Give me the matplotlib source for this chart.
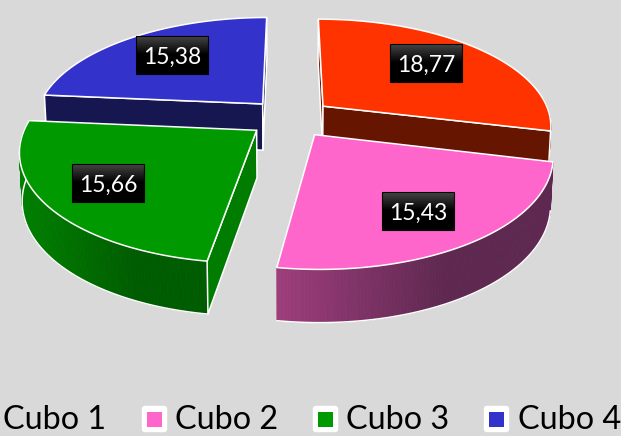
import numpy as np
import matplotlib
matplotlib.use("Agg")
import matplotlib.pyplot as plt
from matplotlib.colors import to_rgb
from matplotlib.patches import Polygon, FancyBboxPatch, Rectangle

categories = ["Cubo 1", "Cubo 2", "Cubo 3", "Cubo 4"]
values = [18.77, 15.43, 15.66, 15.38]

top_colors = ["#FF3300", "#FF66CC", "#009900", "#3333CC"]
wall_colors = ["#661500", "#66294F", "#007D00", "#161650"]
side_left = ["#661500", "#9E3E7C", "#008000", "#161650"]
side_right = ["#661500", "#5E2850", "#005C00", "#161650"]
label_centers = [(426, 63), (418, 211), (108, 183), (172, 55)]
legend_text_x = [3, 175, 346, 518]
legend_box_x = [None, 142, 313, 484]

W, H = 621, 436
CX, CY = 290.5, 118
A, B, K, EXPL, DEPTH = 228, 105.5, 0.17, 0.185, 47
BG = "#D9D9D9"

fig = plt.figure(figsize=(W / 100, H / 100), dpi=100, facecolor=BG)
ax = fig.add_axes([0, 0, 1, 1])
ax.set_xlim(0, W)
ax.set_ylim(H, 0)
ax.axis("off")


def project(X, Y, bottom=False):
    X, Y = np.asarray(X, float), np.asarray(Y, float)
    w = 1 + K * Y
    sx = CX + A * X / w
    sy = CY - B * Y / w
    if bottom:
        sx = CX + (sx - CX) * 0.99
        sy = sy + DEPTH * (1 - 0.115 * Y)
    return sx, sy


def slice_world(t0, t1, n=120):
    mid = (t0 + t1) / 2
    ox, oy = EXPL * np.sin(mid), EXPL * np.cos(mid)
    th = np.linspace(t0, t1, n)
    return ox, oy, th, ox + np.sin(th), oy + np.cos(th)


def area(p):
    p = np.asarray(p)
    return 0.5 * np.sum(p[:, 0] * np.roll(p[:, 1], -1) - np.roll(p[:, 0], -1) * p[:, 1])


angles = np.cumsum([0] + values) / sum(values) * 2 * np.pi
WHITE = dict(edgecolor="white", linewidth=1.1, joinstyle="round")
order = [3, 0, 2, 1]

for rank, i in enumerate(order):
    t0, t1 = angles[i], angles[i + 1]
    ox, oy, th, x, y = slice_world(t0, t1)
    base = rank * 10
    # outer side, only where it faces the viewer
    mask = (th > np.radians(85)) & (th < np.radians(275))
    if mask.sum() > 1:
        xs, ys = x[mask], y[mask]
        tx, ty = project(xs, ys)
        bx, by = project(xs, ys, True)
        lo, hi = np.array(to_rgb(side_left[i])), np.array(to_rgb(side_right[i]))
        span = np.clip((tx - tx.min()) / (0.62 * (tx.max() - tx.min())), 0, 1)
        for j in range(len(tx) - 1):
            c = lo + (hi - lo) * span[j]
            ax.add_patch(Polygon([(tx[j], ty[j]), (tx[j + 1], ty[j + 1]),
                                  (bx[j + 1], by[j + 1]), (bx[j], by[j])],
                                 closed=True, facecolor=c, edgecolor=c,
                                 linewidth=0.6, zorder=base + 1))
        ax.plot(bx, by, color="white", lw=1.1, zorder=base + 2)
    # radial walls: only those turned to the viewer
    for sign, (xe, ye) in ((-1, (x[0], y[0])), (1, (x[-1], y[-1]))):
        pts = np.array([[ox, oy], [xe, ye]])
        tx, ty = project(pts[:, 0], pts[:, 1])
        bx, by = project(pts[:, 0], pts[:, 1], True)
        quad = [(tx[0], ty[0]), (tx[1], ty[1]), (bx[1], by[1]), (bx[0], by[0])]
        if sign * area(quad) > -1000:
            ax.add_patch(Polygon(quad, closed=True, facecolor=wall_colors[i],
                                 zorder=base + 3, **WHITE))
    # top face
    tx, ty = project(np.r_[ox, x], np.r_[oy, y])
    ax.add_patch(Polygon(np.c_[tx, ty], closed=True, facecolor=top_colors[i],
                         zorder=base + 4, **WHITE))

# data labels
grad = np.r_[np.linspace(0.27, 0.0, 20), np.zeros(20)].reshape(-1, 1)
for v, (cx, cy) in zip(values, label_centers):
    ext = (cx - 36, cx + 36, cy + 19, cy - 19)
    ax.imshow(grad, cmap="gray", vmin=0, vmax=1, extent=ext, aspect="auto",
              interpolation="bilinear", zorder=100)
    ax.add_patch(Rectangle((cx - 36, cy - 19), 72, 38, fill=False, edgecolor="black",
                           linewidth=0.8, zorder=101))
    ax.text(cx, cy + 9, f"{v:.2f}".replace(".", ","), color="white", ha="center",
            va="baseline", fontsize=16.5, family="Lato", zorder=102)
ax.set_xlim(0, W)
ax.set_ylim(H, 0)

# legend
for i, name in enumerate(categories):
    ax.text(legend_text_x[i], 429, name, color="black", ha="left", va="baseline",
            fontsize=23.3, family="Lato", zorder=100)
    if legend_box_x[i] is not None:
        bx = legend_box_x[i]
        ax.add_patch(FancyBboxPatch((bx + 0.5, 406.5), 24, 25,
                                    boxstyle="round,pad=0,rounding_size=2.5",
                                    facecolor="white", edgecolor="white", linewidth=1,
                                    zorder=100))
        ax.add_patch(Rectangle((bx + 5, 412), 15, 15, facecolor=top_colors[i],
                               edgecolor="none", zorder=101))

fig.savefig("out.png", dpi=100, facecolor=BG)
